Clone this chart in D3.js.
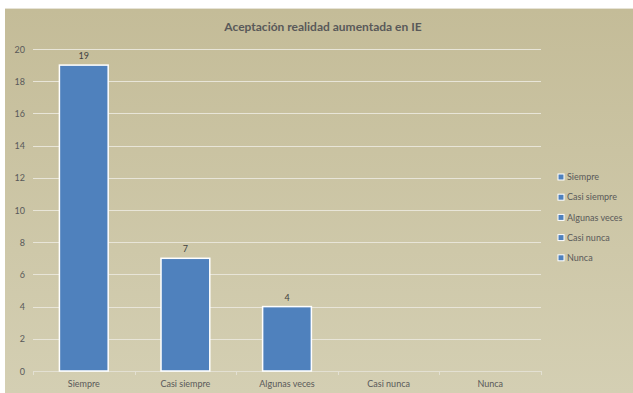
<!DOCTYPE html>
<html>
<head>
<meta charset="utf-8">
<script src="https://cdn.jsdelivr.net/npm/d3@7"></script>
<style>
html,body{margin:0;padding:0;background:#fff;}
svg{display:block;}
text{font-family:"Lato","Open Sans",sans-serif;}
</style>
</head>
<body>
<svg id="chart" width="633" height="393"></svg>
<script>
const categories = ["Siempre", "Casi siempre", "Algunas veces", "Casi nunca", "Nunca"];
const values = [19, 7, 4, null, null];
const yTicks = [0, 2, 4, 6, 8, 10, 12, 14, 16, 18, 20];
const title = "Aceptación realidad aumentada en IE";

const svg = d3.select("#chart");
const W = 633, H = 393;

const defs = svg.append("defs");
const grad = defs.append("linearGradient").attr("id", "bg").attr("x1", 0).attr("y1", 0).attr("x2", 0).attr("y2", 1);
grad.append("stop").attr("offset", "0%").attr("stop-color", "#c4bc98");
grad.append("stop").attr("offset", "100%").attr("stop-color", "#d4cfb3");

svg.append("rect").attr("x", 5).attr("y", 9).attr("width", W - 5).attr("height", H - 9).attr("fill", "url(#bg)");
svg.append("line").attr("x1", 5).attr("x2", W).attr("y1", 8.5).attr("y2", 8.5).attr("stroke", "#e6e3d6").attr("stroke-width", 1);

const margin = {left: 33, right: 92, top: 49, bottom: 22};
const x = d3.scaleBand().domain(categories).range([33, 541]).paddingInner(0.52).paddingOuter(0.26);
const xb = d3.scaleBand().domain(categories).range([33, 541]);
const y = d3.scaleLinear().domain([0, 20]).range([371, 49]);

// gridlines
svg.append("g").selectAll("line").data(yTicks.filter(d => d > 0)).join("line")
  .attr("x1", 33).attr("x2", 541)
  .attr("y1", d => Math.round(y(d)) + 0.5).attr("y2", d => Math.round(y(d)) + 0.5)
  .attr("stroke", "#e8e5d8").attr("stroke-width", 1);

// y axis labels
const yAxis = d3.axisLeft(y).tickValues(yTicks).tickSize(0).tickPadding(0);
const gy = svg.append("g").attr("transform", "translate(25,0)").call(yAxis);
gy.select(".domain").remove();
gy.selectAll("text").attr("font-size", 9).attr("fill", "#595959").attr("dy", "0.35em");

// x axis
const xAxis = d3.axisBottom(xb).tickSize(0).tickPadding(9);
const gx = svg.append("g").attr("transform", "translate(0,371.5)").call(xAxis);
gx.select(".domain").attr("stroke", "#e3e0d2").attr("d", "M33,0H541");
gx.selectAll("text").attr("font-size", 9).attr("fill", "#595959");
// category boundary ticks
svg.append("g").selectAll("line").data(d3.range(categories.length + 1)).join("line")
  .attr("x1", i => Math.round(33 + i * xb.step()) + 0.5).attr("x2", i => Math.round(33 + i * xb.step()) + 0.5)
  .attr("y1", 371).attr("y2", 375).attr("stroke", "#e3e0d2");

// bars
const data = categories.map((c, i) => ({c, v: values[i]})).filter(d => d.v != null);
svg.append("g").selectAll("rect").data(data).join("rect")
  .attr("x", d => x(d.c)).attr("width", x.bandwidth())
  .attr("y", d => y(d.v)).attr("height", d => y(0) - y(d.v))
  .attr("fill", "#4f81bd").attr("stroke", "#ffffff").attr("stroke-width", 1.5);

// labels
svg.append("g").selectAll("text").data(data).join("text")
  .attr("x", d => x(d.c) + x.bandwidth() / 2).attr("y", d => y(d.v) - 6)
  .attr("text-anchor", "middle").attr("font-size", 9).attr("fill", "#404040")
  .text(d => d.v);

// title
svg.append("text").attr("x", 323).attr("y", 31).attr("text-anchor", "middle")
  .attr("font-size", 12).attr("font-weight", "bold").attr("fill", "#595959").text(title);

// legend
const lg = svg.append("g").selectAll("g").data(categories).join("g")
  .attr("transform", (d, i) => `translate(558,${177 + i * 20.2})`);
lg.append("rect").attr("x", 0).attr("y", -3).attr("width", 6).attr("height", 6)
  .attr("fill", "#4f81bd").attr("stroke", "#fff").attr("stroke-width", 1);
lg.append("text").attr("x", 9).attr("y", 0).attr("dy", "0.35em")
  .attr("font-size", 9).attr("fill", "#595959").text(d => d);
</script>
</body>
</html>
